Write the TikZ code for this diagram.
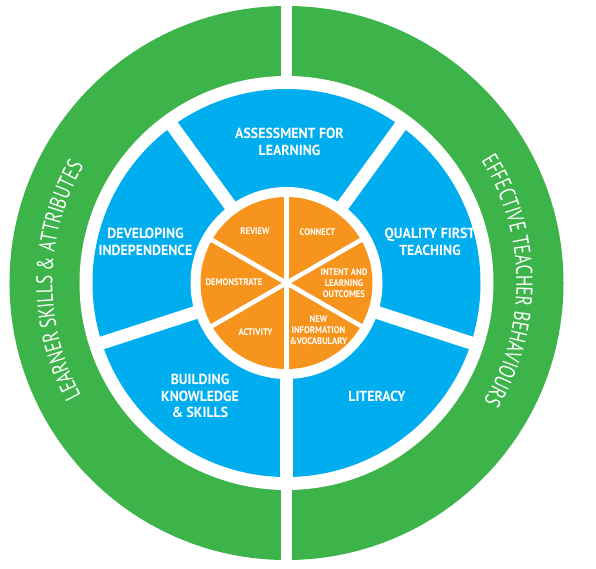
\documentclass[tikz,border=0pt]{standalone}
\usepackage{fontspec}
\setmainfont{PT Sans}
\newfontfamily\ringfont[FakeStretch=0.74]{PT Sans}
\newfontfamily\labelfont[FakeStretch=0.95]{PT Sans}
\newfontfamily\hubfont[FakeStretch=0.9]{PT Sans}
\usetikzlibrary{decorations.text}
\definecolor{ringgreen}{RGB}{60,180,74}
\definecolor{wheelblue}{RGB}{0,174,239}
\definecolor{huborange}{RGB}{247,148,29}
\tikzset{
	bluelabel/.style={text=white,align=center,font=\labelfont\bfseries\fontsize{14.6}{16.8}\selectfont},
	hublabel/.style={text=white,align=center,font=\hubfont\bfseries\fontsize{9.6}{11.2}\selectfont},
	whitegap/.style={draw=white,line width=#1}
}
\begin{document}
\begin{tikzpicture}[x=1pt,y=1pt]
	\useasboundingbox (-286.5,-285) rectangle (309.5,283);
	\fill[ringgreen] (0,0) circle (277);
	\fill[white] (0,0) circle (207);
	\fill[wheelblue] (0,0) circle (194);
	\fill[white] (0,0) circle (96);
	\fill[huborange] (0,0) circle (86);
	\draw[whitegap=11] (0,200) -- (0,280);
	\draw[whitegap=11] (0,-200) -- (0,-280);
	\foreach \a in {-90,-18,54,126,198}
		\draw[whitegap=13] (\a:90) -- (\a:200);
	\foreach \a in {30,90,150}
		\draw[whitegap=4.5] (\a:88) -- (\a+180:88);
	\node[bluelabel] (afl) at (3,141) {ASSESSMENT FOR\\LEARNING};
	\node[bluelabel] (dev) at (-141,41.5) {DEVELOPING\\INDEPENDENCE};
	\node[bluelabel] (qft) at (143.5,41) {QUALITY FIRST\\TEACHING};
	\node[bluelabel] (bks) at (-86.5,-113) {BUILDING\\KNOWLEDGE\\\& SKILLS};
	\node[bluelabel] (lit) at (90.5,-113) {LITERACY};
	\node[hublabel] (rev) at (-31.5,52) {REVIEW};
	\node[hublabel] (con) at (31,51) {CONNECT};
	\node[hublabel] (ilo) at (57.5,0) {INTENT AND\\LEARNING\\OUTCOMES};
	\node[hublabel] (dem) at (-52.5,1) {DEMONSTRATE};
	\node[hublabel] (act) at (-31,-49) {ACTIVITY};
	\node[hublabel] (niv) at (32,-47) {NEW\\INFORMATION\\\&VOCABULARY};
	\path[decorate,decoration={text along path,text align=center,text color=white,
		text={|\ringfont\fontsize{23}{23}\selectfont|LEARNER SKILLS {\&} ATTRIBUTES}}]
		(229.3:234) arc[start angle=229.3,end angle=129.3,radius=234];
	\path[decorate,decoration={text along path,text align=center,text color=white,
		text={|\ringfont\fontsize{23}{23}\selectfont|EFFECTIVE TEACHER BEHAVIOURS}}]
		(50.6:230) arc[start angle=50.6,end angle=-49.4,radius=230];
\end{tikzpicture}
\end{document}
